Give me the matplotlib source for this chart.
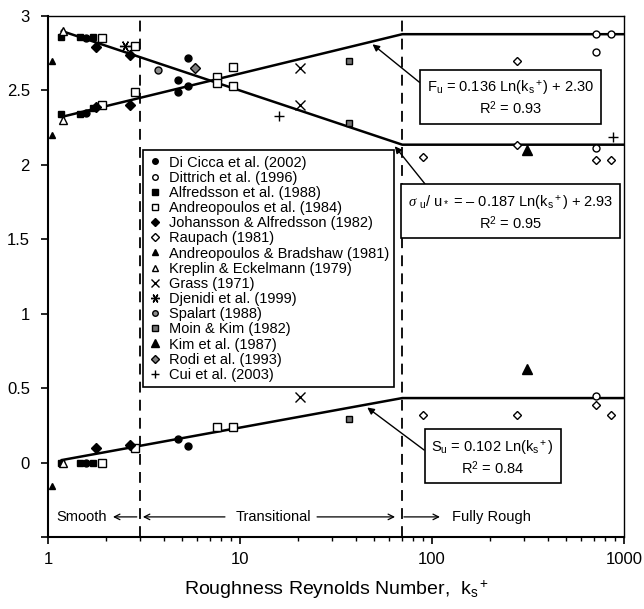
import numpy as np
import matplotlib
matplotlib.use("Agg")
import matplotlib.pyplot as plt
from matplotlib.ticker import LogLocator, NullFormatter

plt.rcParams['font.family'] = ['Liberation Sans', 'DejaVu Sans']
plt.rcParams['mathtext.fontset'] = 'custom'
plt.rcParams['mathtext.rm'] = 'Liberation Sans'
plt.rcParams['mathtext.it'] = 'Liberation Serif:italic'
plt.rcParams['mathtext.bf'] = 'Liberation Sans:bold'

# ---------------- data ----------------
dicicca_x = [1.58, 4.76, 5.36, 1.58, 4.76, 5.36, 1.58, 4.76, 5.36]
dicicca_y = [2.85, 2.57, 2.72, 2.35, 2.49, 2.53, 0.00, 0.16, 0.11]

dittrich_x = [719, 853, 719, 719, 719]
dittrich_y = [2.88, 2.88, 2.76, 2.11, 0.45]

alfredsson_x = [1.17, 1.47, 1.72, 1.17, 1.47, 1.72, 1.17, 1.47, 1.72]
alfredsson_y = [2.86, 2.86, 2.86, 2.34, 2.34, 2.38, 0.00, 0.00, 0.00]

andreo84_x = [1.91, 2.84, 7.6, 7.6, 9.2, 9.2, 1.91, 2.84, 1.91, 2.84, 7.6, 9.2]
andreo84_y = [2.85, 2.80, 2.59, 2.55, 2.66, 2.53, 2.40, 2.49, 0.00, 0.10, 0.24, 0.24]

johansson_x = [1.78, 2.67, 1.78, 2.67, 1.78, 2.67]
johansson_y = [2.79, 2.74, 2.39, 2.40, 0.10, 0.12]

raupach_x = [277, 277, 89.7, 719, 853, 89.7, 277, 719, 853]
raupach_y = [2.70, 2.135, 2.05, 2.03, 2.03, 0.32, 0.32, 0.385, 0.32]

andbrad_x = [1.05, 1.05, 1.05]
andbrad_y = [2.70, 2.20, -0.16]

kreplin_x = [1.2, 1.2, 1.2]
kreplin_y = [2.90, 2.30, 0.00]

grass_x = [20.5, 20.5, 20.5]
grass_y = [2.65, 2.40, 0.44]

djenidi_x = [2.52]
djenidi_y = [2.80]

spalart_x = [3.74]
spalart_y = [2.64]

moin_x = [37, 37, 37]
moin_y = [2.70, 2.28, 0.29]

kim_x = [313, 313]
kim_y = [2.10, 0.63]

rodi_x = [5.83]
rodi_y = [2.65]

cui_x = [15.9, 877]
cui_y = [2.33, 2.19]

# fitted curves: coefficients and transition limits
fu_a, fu_b = 0.136, 2.30
sig_a, sig_b = -0.187, 2.93
su_a, su_b = 0.102, 0.0
k_start, k_rough, k_end = 1.18, 70.0, 1000.0
k_smooth = 3.0

# ---------------- figure ----------------
fig = plt.figure(figsize=(6.44, 6.09), dpi=100)
ax = fig.add_axes([48/644, 72/609, 576/644, 521/609])

series = [
    ("Di Cicca et al. (2002)", dicicca_x, dicicca_y, dict(marker='o', mfc='k', mec='k', ms=5)),
    ("Dittrich et al. (1996)", dittrich_x, dittrich_y, dict(marker='o', mfc='white', mec='k', ms=5)),
    ("Alfredsson et al. (1988)", alfredsson_x, alfredsson_y, dict(marker='s', mfc='k', mec='k', ms=5)),
    ("Andreopoulos et al. (1984)", andreo84_x, andreo84_y, dict(marker='s', mfc='white', mec='k', ms=5.5)),
    ("Johansson & Alfredsson (1982)", johansson_x, johansson_y, dict(marker='D', mfc='k', mec='k', ms=5)),
    ("Raupach (1981)", raupach_x, raupach_y, dict(marker='D', mfc='white', mec='k', ms=4.5)),
    ("Andreopoulos & Bradshaw (1981)", andbrad_x, andbrad_y, dict(marker='^', mfc='k', mec='k', ms=5)),
    ("Kreplin & Eckelmann (1979)", kreplin_x, kreplin_y, dict(marker='^', mfc='white', mec='k', ms=6)),
    ("Grass (1971)", grass_x, grass_y, dict(marker='x', mfc='k', mec='k', ms=7)),
    ("Djenidi et al. (1999)", djenidi_x, djenidi_y, dict(marker=(6, 2, 90), mfc='k', mec='k', ms=8)),
    ("Spalart (1988)", spalart_x, spalart_y, dict(marker='o', mfc='0.55', mec='k', ms=5)),
    ("Moin & Kim (1982)", moin_x, moin_y, dict(marker='s', mfc='0.45', mec='k', ms=5)),
    ("Kim et al. (1987)", kim_x, kim_y, dict(marker='^', mfc='k', mec='k', ms=7)),
    ("Rodi et al. (1993)", rodi_x, rodi_y, dict(marker='D', mfc='0.5', mec='k', ms=5)),
    ("Cui et al. (2003)", cui_x, cui_y, dict(marker='+', mfc='k', mec='k', ms=7)),
]

for label, xs, ys, st in series:
    ax.plot(xs, ys, linestyle='none', mew=1.0, label=label, zorder=4, **st)

# fitted lines
def seg(a, b):
    k1 = np.geomspace(k_start, k_rough, 60)
    y1 = a * np.log(k1) + b
    k2 = np.array([k_rough, k_end])
    y2 = np.full(2, a * np.log(k_rough) + b)
    return np.concatenate([k1, k2]), np.concatenate([y1, y2])

for a, b in [(fu_a, fu_b), (sig_a, sig_b), (su_a, su_b)]:
    kx, ky = seg(a, b)
    ax.plot(kx, ky, color='k', lw=1.8, zorder=3)

# regime boundaries
for xv in (k_smooth, k_rough):
    ax.axvline(xv, color='k', lw=1.3, ls=(0, (6, 4)), zorder=2)

ax.set_xscale('log')
ax.set_xlim(1, 1000)
ax.set_ylim(-0.5, 3)

ax.set_xticks([1, 10, 100, 1000])
ax.set_xticklabels(['1', '10', '100', '1000'])
ax.xaxis.set_minor_locator(LogLocator(base=10, subs=np.arange(2, 10)))
ax.xaxis.set_minor_formatter(NullFormatter())
yt = [-0.5, 0, 0.5, 1, 1.5, 2, 2.5, 3]
ax.set_yticks(yt)
ax.set_yticklabels(['', '0', '0.5', '1', '1.5', '2', '2.5', '3'])
ax.tick_params(axis='both', which='major', labelsize=12, direction='out', length=5, width=1.2)
ax.tick_params(axis='x', which='major', pad=6)
ax.tick_params(axis='y', which='major', pad=8)
ax.tick_params(axis='x', which='minor', direction='out', length=3, width=1.0)
for sp in ['left', 'bottom']:
    ax.spines[sp].set_linewidth(1.5)
for sp in ['top', 'right']:
    ax.spines[sp].set_linewidth(1.0)

ax.set_xlabel(r"Roughness Reynolds Number,  k$_{\rm s}$$^{\rm +}$", fontsize=14, labelpad=8)

# legend
leg = ax.legend(loc='upper left', bbox_to_anchor=(0.165, 0.742), fontsize=10.5,
                frameon=True, fancybox=False, edgecolor='k', framealpha=1,
                handlelength=0.9, handletextpad=0.5, labelspacing=0.08,
                borderpad=0.35, markerscale=0.8, borderaxespad=0)
leg.get_frame().set_linewidth(1.2)

box = dict(boxstyle='square,pad=0.45', fc='white', ec='k', lw=1.2)
arrow = dict(arrowstyle='-|>', color='k', lw=1.0, mutation_scale=10, shrinkA=0, shrinkB=0)

ax.annotate("F$_{\\rm u}$ = 0.136 Ln(k$_{\\rm s}$$^{\\rm +}$) + 2.30\nR$^{\\rm 2}$ = 0.93",
            xy=(49, 2.81), xytext=(256, 2.45), textcoords='data',
            ha='center', va='center', fontsize=10.5, bbox=box, zorder=6,
            arrowprops=dict(arrow, relpos=(0, 0.75)))

ax.annotate("$\\it{\\sigma}$ $_{\\rm u}$/ u$_*$ = – 0.187 Ln(k$_{\\rm s}$$^{\\rm +}$) + 2.93\nR$^{\\rm 2}$ = 0.95",
            xy=(64, 2.125), xytext=(256, 1.68), textcoords='data',
            ha='center', va='center', fontsize=10.5, bbox=box, zorder=6,
            arrowprops=dict(arrow, relpos=(0.12, 1.0)))

ax.annotate("S$_{\\rm u}$ = 0.102 Ln(k$_{\\rm s}$$^{\\rm +}$)\nR$^{\\rm 2}$ = 0.84",
            xy=(46, 0.37), xytext=(207, 0.035), textcoords='data',
            ha='center', va='center', fontsize=10.5, bbox=box, zorder=6,
            arrowprops=dict(arrow, relpos=(0, 0.55)))

# regime labels
yl = -0.365
small_arrow = dict(arrowstyle='->', color='k', lw=0.9, shrinkA=0, shrinkB=0)
ax.text(2.03, yl, "Smooth", ha='right', va='center', fontsize=10.5)
ax.annotate("", xy=(2.18, yl), xytext=(2.9, yl), arrowprops=small_arrow)
ax.text(14.9, yl, "Transitional", ha='center', va='center', fontsize=10.5)
ax.annotate("", xy=(3.12, yl), xytext=(8.35, yl), arrowprops=small_arrow)
ax.annotate("", xy=(64.2, yl), xytext=(25.2, yl), arrowprops=small_arrow)
ax.text(127, yl, "Fully Rough", ha='left', va='center', fontsize=10.5)
ax.annotate("", xy=(110, yl), xytext=(71.4, yl), arrowprops=small_arrow)

fig.savefig("out.png", dpi=100, facecolor='white')
